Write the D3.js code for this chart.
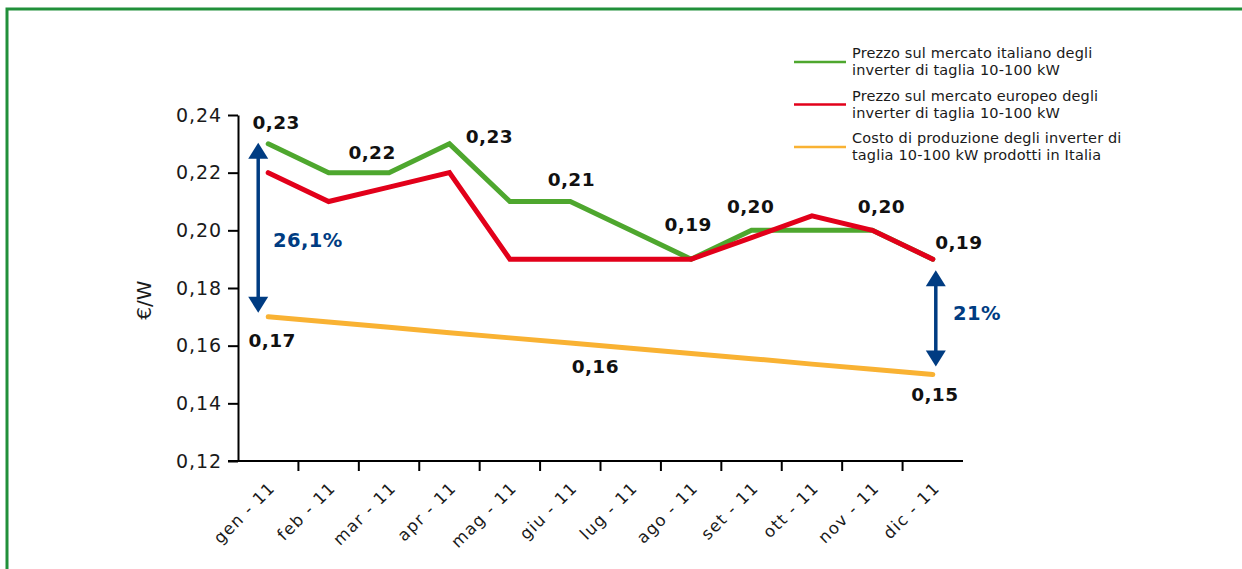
<!DOCTYPE html>
<html>
<head>
<meta charset="utf-8">
<script src="https://cdn.jsdelivr.net/npm/d3@7"></script>
<style>
  html, body { margin: 0; padding: 0; background: #fff; }
  svg { display: block; font-family: "DejaVu Sans", sans-serif; }
</style>
</head>
<body>
<svg id="chart" width="1242" height="569"></svg>
<script>
// Months on the x axis
const aMonths = ['gen - 11', 'feb - 11', 'mar - 11', 'apr - 11', 'mag - 11', 'giu - 11',
  'lug - 11', 'ago - 11', 'set - 11', 'ott - 11', 'nov - 11', 'dic - 11'];

// Series values (€/W)
const aItaly = [0.23, 0.22, 0.22, 0.23, 0.21, 0.21, 0.20, 0.19, 0.20, 0.20, 0.20, 0.19];
const aEurope = [0.22, 0.21, 0.215, 0.22, 0.19, 0.19, 0.19, 0.19, 0.1975, 0.205, 0.20, 0.19];
const aCost = [0.1700, 0.1682, 0.1664, 0.1645, 0.1627, 0.1609, 0.1591, 0.1573, 0.1555, 0.1536, 0.1518, 0.1500];

const aYTicks = [0.12, 0.14, 0.16, 0.18, 0.20, 0.22, 0.24];

const aSeries = [
  { sName: ['Prezzo sul mercato italiano degli', 'inverter di taglia 10-100 kW'], sColour: '#4ea72e', aValues: aItaly },
  { sName: ['Prezzo sul mercato europeo degli', 'inverter di taglia 10-100 kW'], sColour: '#e2001a', aValues: aEurope },
  { sName: ['Costo di produzione degli inverter di', 'taglia 10-100 kW prodotti in Italia'], sColour: '#f9b233', aValues: aCost }
];

// Value labels: [series index, month index, text, dx, dy]
const aLabels = [
  [0, 0, '0,23', 8, -20],
  [0, 2, '0,22', -17, -19],
  [0, 3, '0,23', 40, -6],
  [0, 5, '0,21', 1, -21],
  [0, 7, '0,19', -3, -33],
  [0, 8, '0,20', -1, -22],
  [0, 10, '0,20', 9, -22],
  [1, 11, '0,19', 26, -15],
  [2, 0, '0,17', 4, 25],
  [2, 5, '0,16', 25, 25],
  [2, 11, '0,15', 2, 21]
];

const sBlue = '#003c82';
const oSvg = d3.select('#chart');

// Green frame
oSvg.append('path')
  .attr('d', 'M7,569 V9 H1242')
  .attr('fill', 'none')
  .attr('stroke', '#21903a')
  .attr('stroke-width', 3);

const oX = d3.scaleBand().domain(aMonths).range([238, 963]);
const oY = d3.scaleLinear().domain([0.12, 0.24]).range([461, 115]);
const fnCX = m => oX(m) + oX.bandwidth() / 2;
const fnFmt = v => d3.format('.2f')(v).replace('.', ',');

// Y axis
const oYAxis = oSvg.append('g')
  .attr('transform', 'translate(238,0)')
  .call(d3.axisLeft(oY).tickValues(aYTicks).tickSize(10).tickSizeOuter(0).tickFormat(fnFmt));
oYAxis.select('.domain').attr('stroke', '#000').attr('stroke-width', 2);
oYAxis.selectAll('.tick line').attr('stroke', '#000').attr('stroke-width', 2);
oYAxis.selectAll('.tick text')
  .attr('x', -16)
  .attr('font-family', 'DejaVu Sans')
  .attr('font-size', 19)
  .attr('letter-spacing', 0.9)
  .attr('fill', '#1a1a1a');

oSvg.append('text')
  .attr('transform', 'translate(151,300) rotate(-90)')
  .attr('text-anchor', 'middle')
  .attr('font-size', 20)
  .attr('fill', '#1a1a1a')
  .text('€/W');

// X axis
const oXAxis = oSvg.append('g');
oXAxis.append('line')
  .attr('x1', 228).attr('x2', 963)
  .attr('y1', oY(0.12)).attr('y2', oY(0.12))
  .attr('stroke', '#000').attr('stroke-width', 2);
oXAxis.selectAll('line.tick')
  .data(aMonths.slice(1))
  .enter()
  .append('line')
  .attr('class', 'tick')
  .attr('x1', d => oX(d)).attr('x2', d => oX(d))
  .attr('y1', oY(0.12)).attr('y2', oY(0.12) + 10)
  .attr('stroke', '#000').attr('stroke-width', 2);
oXAxis.selectAll('text')
  .data(aMonths)
  .enter()
  .append('text')
  .attr('transform', d => `translate(${fnCX(d) + 8},${oY(0.12) + 28}) rotate(-45)`)
  .attr('text-anchor', 'end')
  .attr('font-size', 16.5)
  .attr('letter-spacing', 1.3)
  .attr('fill', '#1a1a1a')
  .text(d => d);

// Lines (red drawn over green)
const fnLine = d3.line()
  .x((d, i) => fnCX(aMonths[i]))
  .y(d => oY(d));

oSvg.selectAll('path.series')
  .data([aSeries[2], aSeries[0], aSeries[1]])
  .enter()
  .append('path')
  .attr('class', 'series')
  .attr('d', d => fnLine(d.aValues))
  .attr('fill', 'none')
  .attr('stroke', d => d.sColour)
  .attr('stroke-width', 5)
  .attr('stroke-linecap', 'round')
  .attr('stroke-linejoin', 'miter');

// Value labels
oSvg.selectAll('text.value')
  .data(aLabels)
  .enter()
  .append('text')
  .attr('class', 'value')
  .attr('x', d => fnCX(aMonths[d[1]]) + d[3])
  .attr('y', d => oY(aSeries[d[0]].aValues[d[1]]) + d[4])
  .attr('text-anchor', 'middle')
  .attr('dominant-baseline', 'middle')
  .attr('font-size', 18.5)
  .attr('font-weight', 'bold')
  .attr('letter-spacing', 0.4)
  .attr('fill', '#111')
  .text(d => d[2]);

// Double arrows
const fnArrow = (x, y1, y2) => {
  const g = oSvg.append('g').attr('fill', sBlue);
  g.append('line')
    .attr('x1', x).attr('x2', x).attr('y1', y1 + 10).attr('y2', y2 - 10)
    .attr('stroke', sBlue).attr('stroke-width', 3.5);
  g.append('path').attr('d', `M${x},${y1} L${x - 10},${y1 + 16} L${x + 10},${y1 + 16} Z`);
  g.append('path').attr('d', `M${x},${y2} L${x - 10},${y2 - 16} L${x + 10},${y2 - 16} Z`);
};
fnArrow(fnCX(aMonths[0]) - 10, oY(0.23) - 1, oY(0.17) - 4);
fnArrow(fnCX(aMonths[11]) + 3, oY(0.19) + 11, oY(0.15) - 8);

oSvg.append('text')
  .attr('x', 273).attr('y', 241)
  .attr('dominant-baseline', 'middle')
  .attr('font-size', 19.5).attr('font-weight', 'bold')
  .attr('letter-spacing', 0.4)
  .attr('fill', sBlue)
  .text('26,1%');
oSvg.append('text')
  .attr('x', 953).attr('y', 314)
  .attr('dominant-baseline', 'middle')
  .attr('font-size', 19.5).attr('font-weight', 'bold')
  .attr('letter-spacing', 0.4)
  .attr('fill', sBlue)
  .text('21%');

// Legend
const oKey = oSvg.append('g').attr('transform', 'translate(794,62)');
const oKeyItems = oKey.selectAll('g')
  .data(aSeries)
  .enter()
  .append('g')
  .attr('transform', (d, i) => `translate(0,${i * 42.5})`);
oKeyItems.append('line')
  .attr('x1', 0).attr('x2', 52)
  .attr('stroke', d => d.sColour)
  .attr('stroke-width', 2.5);
oKeyItems.append('text')
  .attr('x', 58)
  .attr('y', -4)
  .attr('font-size', 14.5)
  .attr('letter-spacing', 0.15)
  .attr('fill', '#1a1a1a')
  .selectAll('tspan')
  .data(d => d.sName)
  .enter()
  .append('tspan')
  .attr('x', 58)
  .attr('dy', (d, i) => i === 0 ? 0 : 17)
  .text(d => d);
</script>
</body>
</html>
